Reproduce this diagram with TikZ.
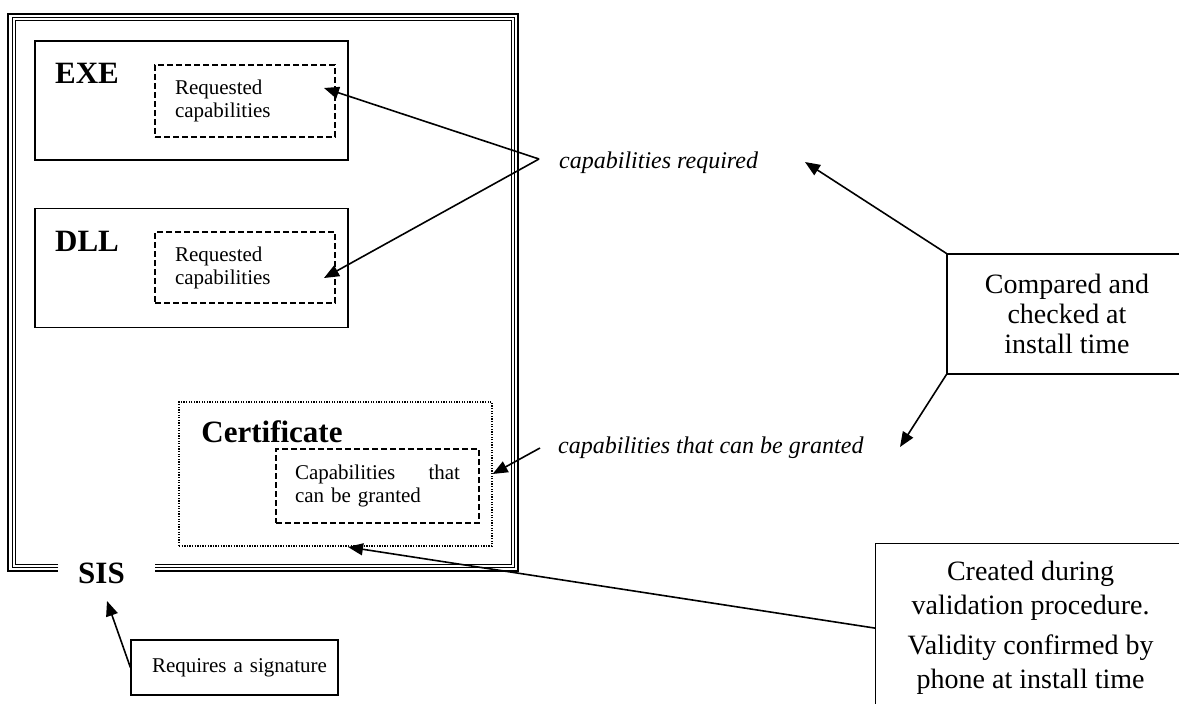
\documentclass[tikz,border=0pt]{standalone}
\usepackage{fontspec}
\setmainfont{Liberation Serif}
\usetikzlibrary{arrows.meta}

\tikzset{
  modbox/.style={draw, line width=1.6pt, minimum width=313pt, minimum height=119pt},
  modlbl/.style={font=\fontsize{31}{34}\selectfont\bfseries, inner sep=0pt},
  capbox/.style={draw, line width=1.2pt, dash pattern=on 6pt off 3pt, align=left, font=\fontsize{21}{23}\selectfont},
  note/.style={font=\fontsize{24}{28}\selectfont\itshape, inner sep=0pt, anchor=west},
  infobox/.style={draw, line width=1.2pt, align=center, font=\fontsize{28}{30}\selectfont},
  arr/.style={line width=1.6pt, -{Triangle[length=15pt,width=12pt]}}
}

\begin{document}
\begin{tikzpicture}[x=1pt, y=-1pt]
			%%%%% START %%%%%
			\useasboundingbox (0,0) rectangle (1179,704);
			\clip (0,0) rectangle (1179,704);
			
			% SIS frame, open at the bottom for its label
			\draw[line width=2pt] (58,571) -| (7.5,13.5) -| (518,571) -- (155,571);
			\draw[line width=1pt] (58,567.5) -| (12,17.5) -| (514,567.5) -- (155,567.5);
			\draw[line width=1pt] (58,564) -| (15,20.5) -| (511,564) -- (155,564);
			\node[modlbl] (sis) at (101.5,573) {SIS};
			
			\node[modbox] (exe) at (191.5,100.5) {};
			\node[modlbl] (exelbl) at (87,73.5) {EXE};
			\node[capbox, text width=140pt, inner xsep=20pt, minimum height=72pt] (exereq) at (245,101) {Requested\\capabilities};
			
			\node[modbox] (dll) at (191.5,268) {};
			\node[modlbl] (dlllbl) at (87,241) {DLL};
			\node[capbox, text width=140pt, inner xsep=20pt, minimum height=71pt] (dllreq) at (245,267.5) {Requested\\capabilities};
			
			\node[draw, line width=1.3pt, dash pattern=on 1.3pt off 1.3pt, minimum width=313pt, minimum height=144pt] (cert) at (335.5,474) {};
			\node[modlbl] (certlbl) at (272,431.5) {Certificate};
			\node[capbox, text width=165pt, inner xsep=19pt, minimum height=74pt] (certcap) at (377.5,486) {Capabilities\hfill that\\can be granted};
			
			\node[draw, line width=1.2pt, minimum width=207pt, minimum height=55pt, text width=185pt, inner xsep=11pt, align=left, font=\fontsize{21}{23}\selectfont] (sign) at (234.5,667.5) {\hspace*{10pt}\mbox{Requires a signature}};
			
			\node[note] (req) at (559,163) {capabilities required};
			\node[note] (grant) at (558,448) {capabilities that can be granted};
			
			\node[infobox, minimum width=240pt, minimum height=120pt] (cmp) at (1067,314) {Compared and\\checked at\\install time};
			\node[infobox, anchor=north west, minimum width=310pt, minimum height=169pt, font=\fontsize{28}{34}\selectfont] (created) at (875,543) {Created during\\validation procedure.\\[6pt]Validity confirmed by\\phone at install time};
			
			\coordinate (reqjoin) at (539,159);
			\coordinate (exetip) at (324,88);
			\coordinate (dlltip) at (324,278);
			\coordinate (grantjoin) at (540,448);
			\coordinate (reqtip) at (805,162);
			\coordinate (granttip) at (900,447);
			\coordinate (certtip) at (348,547);
			\coordinate (sistip) at (107,601);
			
			\draw[arr] (reqjoin) -- (exetip);
			\draw[arr] (reqjoin) -- (dlltip);
			\draw[arr] (grantjoin) -- (cert.east);
			\draw[arr] (cmp.north west) -- (reqtip);
			\draw[arr] (cmp.south west) -- (granttip);
			\draw[arr] (created.west) -- (certtip);
			\draw[arr] (sign.west) -- (sistip);
			%%%%% END %%%%%
\end{tikzpicture}
\end{document}
